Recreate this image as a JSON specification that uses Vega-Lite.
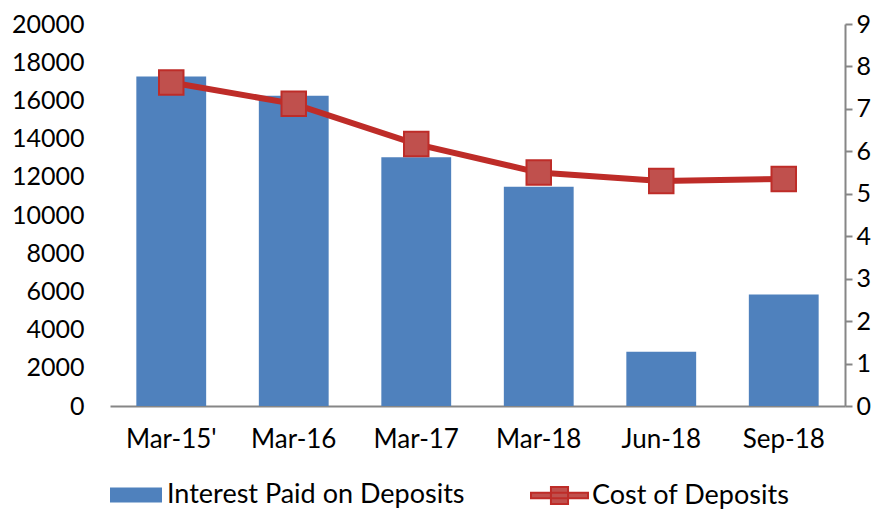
{
  "$schema": "https://vega.github.io/schema/vega-lite/v6.json",
  "width": 735,
  "height": 382,
  "autosize": "none",
  "padding": {"left": 110, "top": 24, "right": 42, "bottom": 103},
  "background": "white",
  "config": {
    "view": {"stroke": null},
    "font": "Lato",
    "axis": {"labelFont": "Lato", "labelFontSize": 25, "labelColor": "#000000", "grid": false, "title": null},
    "legend": {"labelFont": "Lato", "labelFontSize": 27, "labelColor": "#000000", "labelLimit": 500}
  },
  "data": {"values": [
    {"period": "Mar-15'", "interest": 17250, "cost": 7.62},
    {"period": "Mar-16", "interest": 16250, "cost": 7.12},
    {"period": "Mar-17", "interest": 13030, "cost": 6.17},
    {"period": "Mar-18", "interest": 11480, "cost": 5.5},
    {"period": "Jun-18", "interest": 2840, "cost": 5.3},
    {"period": "Sep-18", "interest": 5840, "cost": 5.35}
  ]},
  "encoding": {
    "x": {"field": "period", "type": "nominal", "sort": null,
      "scale": {"paddingInner": 0.43, "paddingOuter": 0.215},
      "axis": {"labelAngle": 0, "ticks": false, "domainColor": "#868686", "domainWidth": 2, "labelPadding": 20, "labelFontSize": 26}}
  },
  "layer": [
    {
      "mark": {"type": "bar", "color": "#4F81BD"},
      "encoding": {
        "y": {"field": "interest", "type": "quantitative",
          "scale": {"domain": [0, 20000]},
          "axis": {"values": [0,2000,4000,6000,8000,10000,12000,14000,16000,18000,20000], "domain": false, "ticks": false, "labelPadding": 26, "format": "d"}},
        "fill": {"datum": "Interest Paid on Deposits", "type": "nominal",
          "scale": {"range": ["#4F81BD"]},
          "legend": {"orient": "none", "legendX": 0, "legendY": 445, "title": null,
            "symbolType": "M-1,-0.29H1V0.29H-1Z", "symbolSize": 2704, "symbolStrokeWidth": 0, "labelOffset": 5}}
      }
    },
    {
      "mark": {"type": "line", "color": "#BE2C28", "strokeWidth": 6,
        "point": {"shape": "square", "size": 600, "filled": true, "fill": "#C0504D", "stroke": "#BE2C28", "strokeWidth": 2}},
      "encoding": {
        "y": {"field": "cost", "type": "quantitative",
          "scale": {"domain": [0, 9]},
          "axis": {"orient": "right", "values": [0,1,2,3,4,5,6,7,8,9], "domainColor": "#868686", "domainWidth": 2, "tickColor": "#868686", "tickWidth": 2, "tickSize": 7, "labelPadding": 4}},
        "stroke": {"datum": "Cost of Deposits", "type": "nominal",
          "scale": {"range": ["#BE2C28"]},
          "legend": {"orient": "none", "legendX": 420, "legendY": 442, "title": null,
            "symbolType": "M-1,-0.1H1V0.1H-1Z M-0.3,-0.3H0.3V0.3H-0.3Z", "symbolSize": 3249, "symbolFillColor": "#C0504D", "symbolStrokeColor": "#BE2C28", "symbolStrokeWidth": 2, "labelOffset": 3}}
      }
    }
  ],
  "resolve": {"scale": {"y": "independent"}}
}
